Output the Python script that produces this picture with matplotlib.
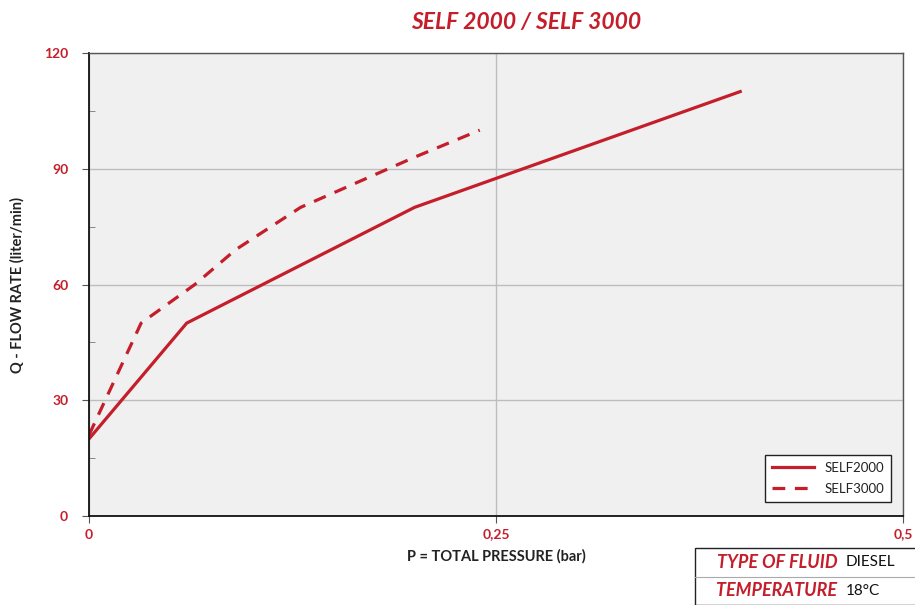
import numpy as np
import matplotlib.pyplot as plt
from matplotlib.patches import Rectangle
from matplotlib.lines import Line2D

plt.rcParams['font.family'] = ['Lato', 'DejaVu Sans']

RED = '#c41e2b'

# data
p_self2000 = [0.0, 0.06, 0.20, 0.40]
q_self2000 = [20, 50, 80, 110]
p_self3000 = [0.0, 0.032, 0.065, 0.09, 0.13, 0.20, 0.24]
q_self3000 = [21, 50, 60, 69, 80, 93, 100]
xticks = [0, 0.25, 0.5]
xtick_labels = ['0', '0,25', '0,5']
yticks = [0, 30, 60, 90, 120]
fluid_rows = [('TYPE OF FLUID', 'DIESEL'), ('TEMPERATURE', '18°C')]

fig = plt.figure(figsize=(9.15, 6.05), dpi=100)
ax = fig.add_axes([0.0973, 0.1471, 0.8896, 0.7653])
ax.set_facecolor('#f0f0f0')

ax.plot(p_self2000, q_self2000, color=RED, lw=2.3, label='SELF2000')
ax.plot(p_self3000, q_self3000, color=RED, lw=2.3, ls=(0, (4, 3)), label='SELF3000')

ax.set_xlim(0, 0.5)
ax.set_ylim(0, 120)
ax.set_xticks(xticks)
ax.set_xticklabels(xtick_labels)
ax.set_yticks(yticks)
ax.set_yticks([15, 45, 75, 105], minor=True)
ax.tick_params(axis='both', which='major', colors='#555555', labelcolor=RED,
               labelsize=10, length=5, width=0.8)
ax.tick_params(axis='x', pad=4)
ax.tick_params(axis='y', pad=10)
ax.tick_params(axis='y', which='minor', direction='in', length=4, color='#777777')
for lab in ax.get_xticklabels() + ax.get_yticklabels():
    lab.set_fontweight('bold')

ax.grid(True, which='major', color='#bdbdbd', lw=1)
ax.set_axisbelow(True)
for side in ['left', 'bottom']:
    ax.spines[side].set_color('#111111')
    ax.spines[side].set_linewidth(1.3)
for side in ['top', 'right']:
    ax.spines[side].set_color('#555555')
    ax.spines[side].set_linewidth(1.0)

ax.set_xlabel('P = TOTAL PRESSURE (bar)', fontsize=10.5, fontweight='bold',
              color='#222222', labelpad=6)
ax.set_ylabel('Q - FLOW RATE (liter/min)', fontsize=10.5, fontweight='bold',
              color='#222222', labelpad=14)
fig.text(0.575, 0.962, 'SELF 2000 / SELF 3000', ha='center', va='center',
         fontsize=16.5, fontweight='bold', style='italic', color=RED)

leg = ax.legend(loc='lower right', bbox_to_anchor=(0.9935, 0.017), fontsize=9.5,
                frameon=True, fancybox=False, edgecolor='#222222',
                facecolor='white', framealpha=1, handlelength=3.2,
                borderpad=0.5, labelspacing=0.7)
leg.get_frame().set_linewidth(1.0)
for t in leg.get_texts():
    t.set_color('#222222')

# fluid info table, bottom right
x0, y0, w, h = 0.760, 0.0, 0.245, 0.094
fig.add_artist(Rectangle((x0, y0), w, h, transform=fig.transFigure,
                         facecolor='white', edgecolor='#222222', lw=1.0))
fig.add_artist(Line2D([x0, x0 + w], [y0 + h / 2, y0 + h / 2],
                      transform=fig.transFigure, color='#aaaaaa', lw=0.8))
for i, (key, val) in enumerate(fluid_rows):
    yc = y0 + h * (0.75 - 0.5 * i)
    t = fig.text(0.924, yc, key + '  ', ha='right', va='center', fontsize=13,
                 fontweight='bold', style='italic', color=RED)
    fig.text(0.924, yc, val, ha='left', va='center', fontsize=11,
             color='#111111')

fig.savefig('out.png', dpi=100)
